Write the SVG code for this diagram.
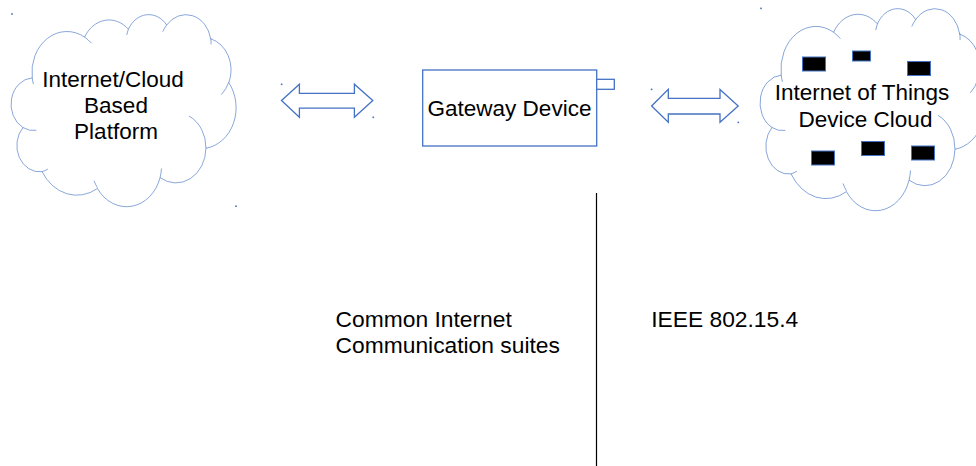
<svg xmlns="http://www.w3.org/2000/svg" width="976" height="466" viewBox="0 0 976 466">
  <style>
    .txt { font-family: "Liberation Sans", Arial, sans-serif; font-size: 22.5px; fill: #000; }
    .lbl { font-size: 22.8px; }
    .blue { fill: #fff; stroke: #4472C4; stroke-width: 1.3; }
    .hook { fill: none; stroke: #4472C4; stroke-width: 1.3; }
    .dev { fill: #000; stroke: #4472C4; stroke-width: 1; }
    .dot { fill: #4472C4; }
  </style>
  <defs>
    <!-- cloud outline in a 432 x 432 unit box -->
    <path id="cloudOutline" d="M 39.00 143.70 A 67.53 91.90 0 0 1 140.05 52.02 A 53.33 72.67 0 0 1 224.55 34.31 A 43.65 59.45 0 0 1 298.32 24.80 A 48.57 65.95 0 0 1 383.17 55.76 A 53.33 72.73 0 0 1 418.18 154.59 A 67.75 92.20 0 0 1 374.03 302.01 A 57.85 78.67 0 0 1 285.54 368.12 A 67.52 92.15 0 0 1 164.80 392.64 A 77.20 105.43 0 0 1 58.03 354.69 A 43.60 59.18 0 0 1 21.12 255.47 A 43.45 59.45 0 0 1 39.00 143.70 Z"/>
    <!-- inner hooks where the bumps overlap -->
    <path id="cloudHooks" d="M 46.93 261.77 A 43.45 59.45 0 0 1 21.12 255.47 M 69.28 348.99 A 43.60 59.18 0 0 1 58.03 354.69 M 164.78 390.90 A 67.52 92.15 0 0 1 158.11 375.23 M 288.27 347.51 A 67.52 92.15 0 0 1 285.54 368.12 M 341.29 229.54 A 57.85 78.67 0 0 1 374.03 302.01 M 417.98 153.54 A 53.33 72.73 0 0 1 403.70 181.36 M 383.24 54.26 A 48.57 65.95 0 0 1 383.94 68.39 M 290.78 39.52 A 48.57 65.95 0 0 1 298.32 24.80 M 221.41 47.20 A 43.65 59.45 0 0 1 224.55 34.31 M 140.00 51.92 A 67.53 91.90 0 0 1 153.04 65.49 M 41.27 157.89 A 67.53 91.90 0 0 1 39.00 143.70"/>
  </defs>

  <g id="cloud-platform">
    <g transform="translate(12,14) scale(0.51852,0.44444)">
      <use href="#cloudOutline" class="blue" vector-effect="non-scaling-stroke"/>
      <use href="#cloudHooks" class="hook" vector-effect="non-scaling-stroke"/>
    </g>
    <text class="txt" x="113" y="87.3" text-anchor="middle">Internet/Cloud</text>
    <text class="txt" x="116" y="113.3" text-anchor="middle">Based</text>
    <text class="txt" x="116" y="139.3" text-anchor="middle">Platform</text>
    <rect class="dot" x="11.2" y="13.2" width="1.6" height="1.6"/>
    <rect class="dot" x="235.2" y="205.4" width="1.6" height="1.6"/>
  </g>

  <g id="gateway">
    <rect x="422.7" y="70" width="174" height="76" fill="#fff" stroke="#4472C4" stroke-width="1.3"/>
    <rect x="596.7" y="79.3" width="17.6" height="10" fill="#fff" stroke="#4472C4" stroke-width="1.3"/>
    <text class="txt" x="509.5" y="116" text-anchor="middle">Gateway Device</text>
  </g>

  <g id="iot-cloud">
    <g transform="translate(761,8) scale(0.51852,0.46759)">
      <use href="#cloudOutline" class="blue" vector-effect="non-scaling-stroke"/>
      <use href="#cloudHooks" class="hook" vector-effect="non-scaling-stroke"/>
    </g>
    <rect class="dev" x="802.5" y="57" width="23" height="14"/>
    <rect class="dev" x="852.5" y="51" width="18" height="10"/>
    <rect class="dev" x="907.5" y="61.5" width="23" height="14"/>
    <rect class="dev" x="811.5" y="151" width="23" height="14"/>
    <rect class="dev" x="861.5" y="141.5" width="23" height="14"/>
    <rect class="dev" x="911.5" y="146" width="23" height="14"/>
    <text class="txt" x="862" y="100" text-anchor="middle">Internet of Things</text>
    <text class="txt" x="865.5" y="126.7" text-anchor="middle">Device Cloud</text>
    <rect class="dot" x="760.2" y="7.6" width="1.6" height="1.6"/>
  </g>

  <g id="connectors">
    <polygon class="blue" points="281.5,100.6 299.4,84.3 299.4,93.3 354.4,93.3 354.4,84.3 372.8,100.6 354.4,117.2 354.4,108.2 299.4,108.2 299.4,117.2"/>
    <polygon class="blue" points="651.6,106 668.3,89.4 668.3,98.3 720,98.3 720,89.4 738.2,106 720,122.3 720,114 668.3,114 668.3,122.3"/>
    <rect class="dot" x="280.8" y="83.5" width="1.6" height="1.6"/>
    <rect class="dot" x="372.5" y="116.5" width="1.6" height="1.6"/>
    <rect class="dot" x="650.8" y="88.6" width="1.6" height="1.6"/>
    <rect class="dot" x="737.5" y="121.6" width="1.6" height="1.6"/>
    <line x1="596.5" y1="193" x2="596.5" y2="466" stroke="#000" stroke-width="1.2"/>
  </g>

  <g id="labels">
    <text class="txt lbl" x="335.6" y="326.7">Common Internet</text>
    <text class="txt lbl" x="335.6" y="352.7">Communication suites</text>
    <text class="txt lbl" x="651.2" y="326.7">IEEE 802.15.4</text>
  </g>
</svg>
